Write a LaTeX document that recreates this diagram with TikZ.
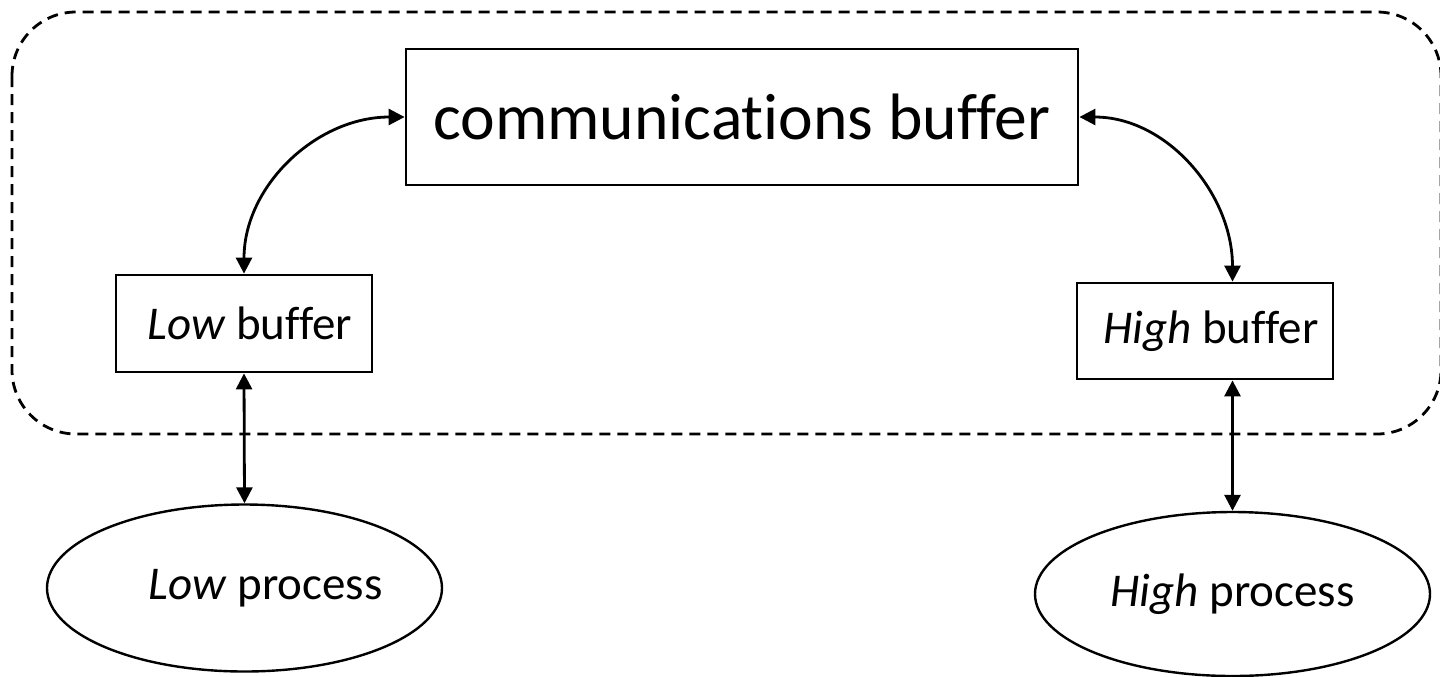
\documentclass[tikz,border=0pt]{standalone}
\usepackage{fontspec}
\setmainfont{Carlito}[Ligatures=CommonOff]
\usetikzlibrary{arrows.meta,shapes.geometric}
\tikzset{
  box/.style={draw, line width=1.4pt, rectangle, inner sep=0pt, anchor=center},
  proc/.style={draw, line width=1.2pt, ellipse, inner sep=0pt, font=\fontsize{23.5}{28}\selectfont},
  link/.style={line width=1.4pt, {Triangle[length=8pt,width=8pt]}-{Triangle[length=8pt,width=8pt]}},
  region/.style={draw, line width=1.4pt, dash pattern=on 5.5pt off 3.5pt, rounded corners=32pt}
}
\begin{document}
\begin{tikzpicture}[x=0.5pt,y=-0.5pt]
\useasboundingbox (0,0) rectangle (1440,676);
\draw[region] (12,12) rectangle (1441,434);
\node[box, minimum width=336pt, minimum height=68pt, font=\fontsize{32.8}{38}\selectfont] (comm) at (742,117) {communications buffer};
\node[box, minimum width=128pt, minimum height=48.5pt, font=\fontsize{23.5}{28}\selectfont] (lowbuf) at (244,323.5) {\hspace*{0.25em}\textit{Low} buffer};
\node[box, minimum width=128pt, minimum height=48pt, font=\fontsize{23.5}{28}\selectfont] (highbuf) at (1205,331) {\hspace*{0.25em}\textit{High} buffer};
\node[proc, minimum width=197.5pt, minimum height=83.5pt] (lowproc) at (244.5,588) {\hspace*{0.9em}\textit{Low} process};
\node[proc, minimum width=197.5pt, minimum height=82pt] (highproc) at (1232.5,594) {\textit{High} process};
\draw[link] (comm.west) to[out=180,in=90] (lowbuf.north);
\draw[link] (comm.east) to[out=0,in=90] (highbuf.north -| highproc.north);
\draw[link] (lowbuf.south) -- (lowproc.north);
\draw[link] (highbuf.south -| highproc.north) -- (highproc.north);
\end{tikzpicture}
\end{document}
